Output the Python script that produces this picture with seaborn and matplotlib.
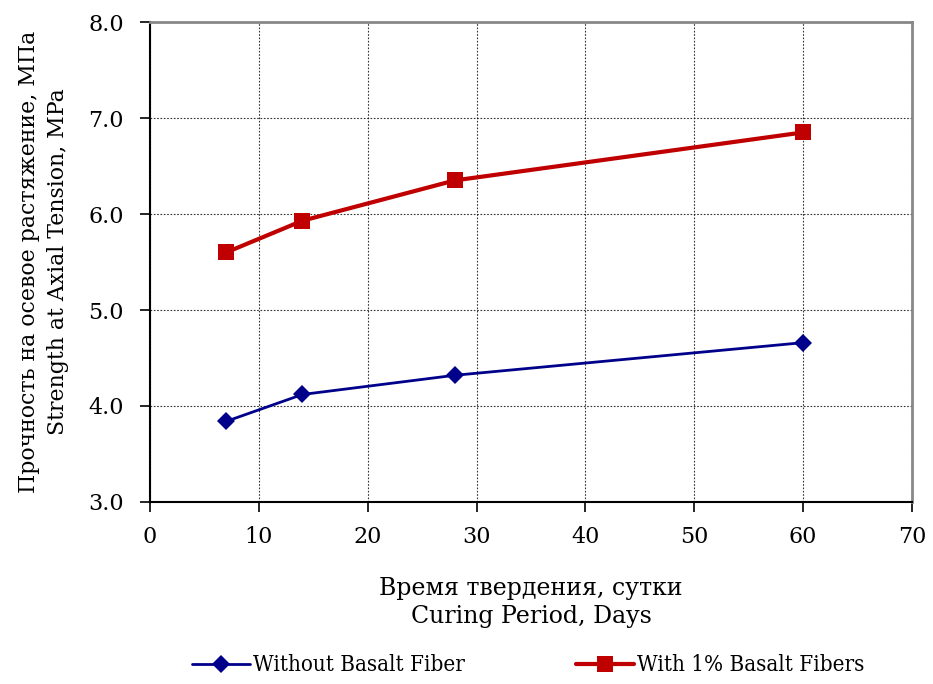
import matplotlib
matplotlib.use("Agg")
import matplotlib.pyplot as plt
import seaborn as sns
import pandas as pd

# Data
days = [7, 14, 28, 60]
without_fiber = [3.84, 4.12, 4.32, 4.66]
with_fiber = [5.60, 5.93, 6.35, 6.85]
series_names = ["Without Basalt Fiber", "With 1% Basalt Fibers"]
y_ticks = [3.0, 4.0, 5.0, 6.0, 7.0, 8.0]

df = pd.DataFrame({
    "days": days * 2,
    "strength": without_fiber + with_fiber,
    "series": [series_names[0]] * len(days) + [series_names[1]] * len(days),
})

sns.set_theme(style="white")
plt.rcParams["font.family"] = ["DejaVu Serif"]
plt.rcParams["text.color"] = "black"
plt.rcParams["axes.labelcolor"] = "black"
plt.rcParams["xtick.color"] = "black"
plt.rcParams["ytick.color"] = "black"

fig = plt.figure(figsize=(9.33, 6.84), dpi=100)
ax = fig.add_axes([0.1608, 0.2661, 0.8167, 0.7017])

blue, red = "#00008B", "#C00000"
palette = {series_names[0]: blue, series_names[1]: red}
sns.lineplot(data=df, x="days", y="strength", hue="series", style="series",
             palette=palette, markers={series_names[0]: "D", series_names[1]: "s"},
             dashes=False, ax=ax, legend=False)

ax.lines[0].set_linewidth(2.0)
ax.lines[0].set_markersize(9)
ax.lines[1].set_linewidth(3.0)
ax.lines[1].set_markersize(11)
for ln in ax.lines[:2]:
    ln.set_markeredgewidth(0)

ax.set_xlim(0, 70)
ax.set_ylim(3.0, 8.0)
ax.set_xticks(range(0, 71, 10))
ax.set_yticks(y_ticks)
ax.set_yticklabels([f"{v:.1f}" for v in y_ticks])
ax.tick_params(axis="both", labelsize=16, direction="out", length=7,
               width=1.2, color="black", left=True, bottom=True)
ax.tick_params(axis="y", pad=12)
ax.tick_params(axis="x", pad=10)

ax.grid(True, color="black", linestyle=(0, (1.5, 1.5)), linewidth=0.8, alpha=0.8)
for side in ["left", "bottom"]:
    ax.spines[side].set_color("black")
    ax.spines[side].set_linewidth(1.5)
for side in ["top", "right"]:
    ax.spines[side].set_color("#888888")
    ax.spines[side].set_linewidth(2.0)

ax.set_xlabel("Время твердения, сутки\nCuring Period, Days", fontsize=17,
              labelpad=21, linespacing=1.3)
ax.set_ylabel("Прочность на осевое растяжение, МПа\nStrength at Axial Tension, MPa",
              fontsize=15.8, labelpad=14, linespacing=1.4)

handles = [
    plt.Line2D([], [], color=blue, marker="D", markersize=9, linewidth=2.0,
               markeredgewidth=0),
    plt.Line2D([], [], color=red, marker="s", markersize=11, linewidth=3.0,
               markeredgewidth=0),
]
fig.legend(handles, series_names, loc="lower center", bbox_to_anchor=(0.566, -0.018),
           ncol=2, frameon=False,
           prop={"family": "DejaVu Serif", "stretch": "condensed", "size": 16},
           handlelength=2.6, handletextpad=0.15, columnspacing=5.0)

fig.savefig("out.png", dpi=100)
